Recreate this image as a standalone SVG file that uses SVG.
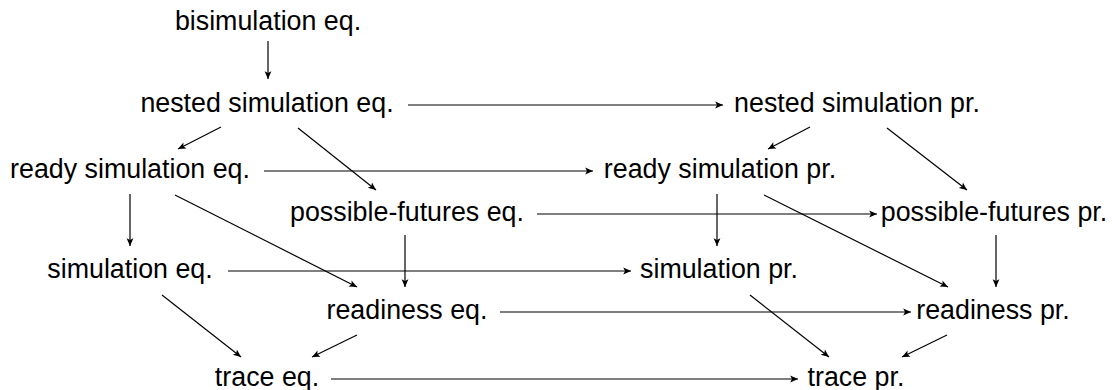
<svg xmlns="http://www.w3.org/2000/svg" width="1112" height="390" viewBox="0 0 1112 390">
  <style>
    .lbl { font-family: "Liberation Sans", Arial, sans-serif; font-size: 26.8px; fill: #000; text-anchor: middle; }
    .edge { stroke: #000; stroke-width: 1.2; fill: none; marker-end: url(#tip); }
  </style>
  <defs>
    <marker id="tip" markerUnits="userSpaceOnUse" markerWidth="12" markerHeight="10" refX="10" refY="5" orient="auto" overflow="visible">
      <path d="M2.2 1.6 L10 5 L2.2 8.4 L4 5 Z" fill="#000"/>
    </marker>
  </defs>
  <rect width="1112" height="390" fill="#fff"/>

  <!-- equivalences (left) -->
  <g id="bisim-eq"><text class="lbl" x="268" y="30">bisimulation eq.</text></g>
  <g id="nested-eq"><text class="lbl" x="267" y="112">nested simulation eq.</text></g>
  <g id="ready-sim-eq"><text class="lbl" x="130" y="178">ready simulation eq.</text></g>
  <g id="pf-eq"><text class="lbl" x="407" y="221">possible-futures eq.</text></g>
  <g id="sim-eq"><text class="lbl" x="130" y="278">simulation eq.</text></g>
  <g id="readiness-eq"><text class="lbl" x="407" y="319">readiness eq.</text></g>
  <g id="trace-eq"><text class="lbl" x="267" y="386">trace eq.</text></g>

  <!-- preorders (right) -->
  <g id="nested-pr"><text class="lbl" x="857" y="112">nested simulation pr.</text></g>
  <g id="ready-sim-pr"><text class="lbl" x="720" y="178">ready simulation pr.</text></g>
  <g id="pf-pr"><text class="lbl" x="994" y="221">possible-futures pr.</text></g>
  <g id="sim-pr"><text class="lbl" x="719" y="278">simulation pr.</text></g>
  <g id="readiness-pr"><text class="lbl" x="993" y="319">readiness pr.</text></g>
  <g id="trace-pr"><text class="lbl" x="856" y="386">trace pr.</text></g>

  <g id="connectors">
    <!-- vertical -->
    <line class="edge" x1="268" y1="41" x2="268" y2="79"/>
    <line class="edge" x1="130" y1="194" x2="130" y2="246"/>
    <line class="edge" x1="717" y1="194" x2="717" y2="246"/>
    <line class="edge" x1="405" y1="235" x2="405" y2="287"/>
    <line class="edge" x1="996" y1="235" x2="996" y2="287"/>

    <!-- horizontal: equivalence to preorder -->
    <line class="edge" x1="408" y1="105" x2="723" y2="105"/>
    <line class="edge" x1="264" y1="171" x2="593" y2="171"/>
    <line class="edge" x1="537" y1="214" x2="877" y2="214"/>
    <line class="edge" x1="228" y1="271" x2="631" y2="271"/>
    <line class="edge" x1="500" y1="312" x2="911" y2="312"/>
    <line class="edge" x1="331" y1="379" x2="798" y2="379"/>

    <!-- diagonals, left -->
    <line class="edge" x1="221" y1="127" x2="178" y2="149"/>
    <line class="edge" x1="298" y1="128" x2="376" y2="190"/>
    <line class="edge" x1="175" y1="195" x2="357" y2="287"/>
    <line class="edge" x1="162" y1="295" x2="241" y2="357"/>
    <line class="edge" x1="357" y1="335" x2="312" y2="357"/>

    <!-- diagonals, right -->
    <line class="edge" x1="810" y1="127" x2="768" y2="149"/>
    <line class="edge" x1="887" y1="128" x2="967" y2="190"/>
    <line class="edge" x1="764" y1="195" x2="948" y2="287"/>
    <line class="edge" x1="750" y1="295" x2="829" y2="357"/>
    <line class="edge" x1="947" y1="335" x2="902" y2="357"/>
  </g>
</svg>
